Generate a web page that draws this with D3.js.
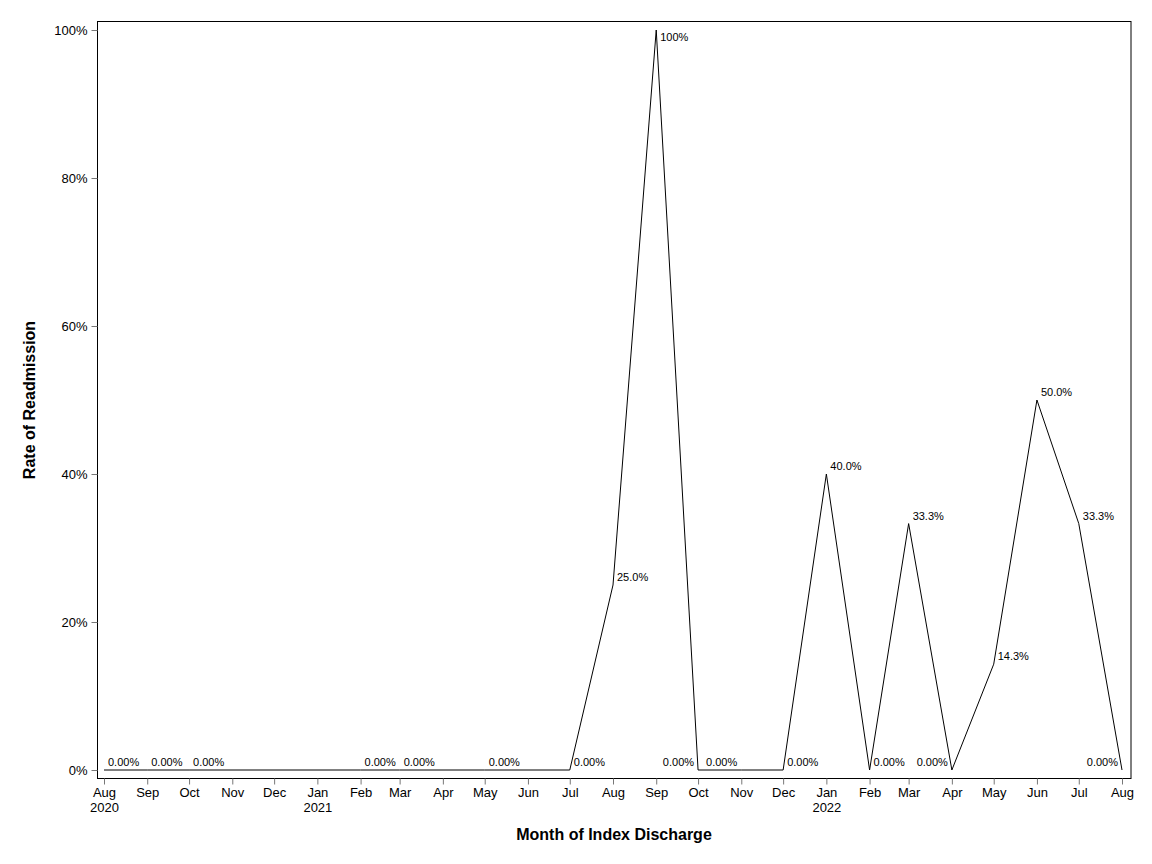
<!DOCTYPE html>
<html>
<head>
<meta charset="utf-8">
<script src="https://cdn.jsdelivr.net/npm/d3@7"></script>
<style>
  body { margin: 0; background: #fff; }
  svg { display: block; font-family: "Liberation Sans", Arial, sans-serif; }
</style>
</head>
<body>
<svg id="chart" width="1152" height="864"></svg>
<script>
"use strict";

// months of index discharge (first of month)
var months = [
  "2020-08", "2020-09", "2020-10", "2020-11", "2020-12",
  "2021-01", "2021-02", "2021-03", "2021-04", "2021-05", "2021-06", "2021-07",
  "2021-08", "2021-09", "2021-10", "2021-11", "2021-12",
  "2022-01", "2022-02", "2022-03", "2022-04", "2022-05", "2022-06", "2022-07", "2022-08"
];

// readmission rate (%), null = no discharges that month
var rates = [
  0, 0, 0, null, null,
  null, 0, 0, null, 0, null, 0,
  25.0, 100, 0, 0, 0,
  40.0, 0, 33.3, 0, 14.3, 50.0, 33.3, 0
];

var rateLabels = [
  "0.00%", "0.00%", "0.00%", "", "",
  "", "0.00%", "0.00%", "", "0.00%", "", "0.00%",
  "25.0%", "100%", "0.00%", "0.00%", "0.00%",
  "40.0%", "0.00%", "33.3%", "0.00%", "14.3%", "50.0%", "33.3%", "0.00%"
];

// which side of the point the label sits on
var labelSide = [
  "R", "R", "R", "", "",
  "", "R", "R", "", "R", "", "R",
  "R", "R", "L", "L", "R",
  "R", "R", "R", "L", "R", "R", "R", "L"
];

var yTicks = [0, 20, 40, 60, 80, 100];

var parse = d3.timeParse("%Y-%m");
var data = months.map(function(m, i) {
  return { date: parse(m), rate: rates[i], label: rateLabels[i], side: labelSide[i] };
});

var svg = d3.select("#chart");

var frame = { left: 97.5, right: 1131, top: 21.5, bottom: 778.5 };

var x = d3.scaleTime()
  .domain([parse("2020-08"), parse("2022-08")])
  .range([104, 1122]);

var y = d3.scaleLinear()
  .domain([0, 100])
  .range([770, 30]);

// frame
svg.append("rect")
  .attr("x", frame.left)
  .attr("y", frame.top)
  .attr("width", frame.right - frame.left)
  .attr("height", frame.bottom - frame.top)
  .attr("fill", "none")
  .attr("stroke", "#000")
  .attr("stroke-width", 1);

// y axis
var yAxis = svg.append("g")
  .attr("transform", "translate(" + frame.left + ",0)")
  .call(d3.axisLeft(y).tickValues(yTicks).tickSize(6).tickPadding(4)
    .tickFormat(function(d) { return d + "%"; }));
yAxis.select(".domain").remove();
yAxis.selectAll(".tick line").attr("stroke", "#777");
yAxis.selectAll(".tick text")
  .attr("font-size", 13)
  .attr("fill", "#000")
  .attr("font-family", "Liberation Sans, Arial, sans-serif");

// x axis
var xAxis = svg.append("g")
  .attr("transform", "translate(0," + frame.bottom + ")")
  .call(d3.axisBottom(x).ticks(d3.timeMonth.every(1)).tickSize(6).tickPadding(3)
    .tickFormat(d3.timeFormat("%b")));
xAxis.select(".domain").remove();
xAxis.selectAll(".tick line").attr("stroke", "#777");
xAxis.selectAll(".tick text")
  .attr("font-size", 13)
  .attr("fill", "#000")
  .attr("font-family", "Liberation Sans, Arial, sans-serif")
  .each(function(d) {
    var first = d.getTime() === x.domain()[0].getTime();
    if (first || d.getMonth() === 0) {
      d3.select(this).append("tspan")
        .attr("x", 0)
        .attr("dy", "1.15em")
        .text(d.getFullYear());
    }
  });

// line through months that have a value
var defined = data.filter(function(d) { return d.rate !== null; });

var line = d3.line()
  .x(function(d) { return x(d.date); })
  .y(function(d) { return y(d.rate); });

svg.append("path")
  .datum(defined)
  .attr("d", line)
  .attr("fill", "none")
  .attr("stroke", "#000")
  .attr("stroke-width", 1);

// point labels
svg.selectAll(".pt-label").data(defined)
  .enter()
  .append("text")
  .attr("class", "pt-label")
  .attr("x", function(d) { return x(d.date) + (d.side === "L" ? -4 : 4); })
  .attr("y", function(d) { return Math.max(y(d.rate) - 4, 41); })
  .attr("text-anchor", function(d) { return d.side === "L" ? "end" : "start"; })
  .attr("font-size", 11)
  .attr("fill", "#000")
  .text(function(d) { return d.label; });

// axis titles
svg.append("text")
  .attr("x", 614)
  .attr("y", 840)
  .attr("text-anchor", "middle")
  .attr("font-size", 16)
  .attr("font-weight", "bold")
  .text("Month of Index Discharge");

svg.append("text")
  .attr("transform", "translate(35,400) rotate(-90)")
  .attr("text-anchor", "middle")
  .attr("font-size", 16)
  .attr("font-weight", "bold")
  .text("Rate of Readmission");
</script>
</body>
</html>
